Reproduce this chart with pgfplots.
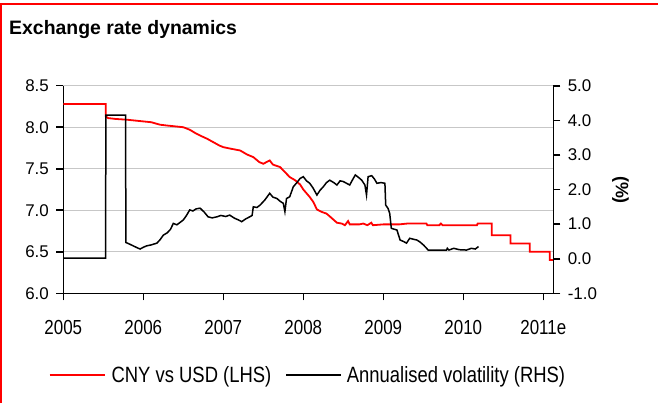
\documentclass[border=0pt]{standalone}
\usepackage{fontspec}
\setmainfont{Liberation Sans}
\usepackage{graphicx}
\usepackage{pgfplots}
\usepackage{pgfplotstable}
\pgfplotsset{compat=1.18}
\newcommand{\vs}[1]{\scalebox{1}[1.2]{#1}}

\pgfplotstableread{
x y
2005.000 8.28
2005.530 8.28
2005.531 8.13
2005.560 8.11
2005.650 8.10
2005.800 8.09
2005.900 8.08
2006.000 8.07
2006.100 8.06
2006.210 8.03
2006.300 8.02
2006.400 8.01
2006.500 8.00
2006.580 7.97
2006.650 7.93
2006.710 7.90
2006.800 7.86
2006.875 7.82
2006.950 7.78
2007.000 7.76
2007.100 7.74
2007.210 7.72
2007.300 7.67
2007.375 7.64
2007.450 7.58
2007.500 7.56
2007.540 7.58
2007.580 7.60
2007.620 7.55
2007.710 7.52
2007.770 7.46
2007.830 7.40
2007.900 7.36
2007.960 7.31
2008.000 7.25
2008.080 7.16
2008.125 7.10
2008.170 7.01
2008.230 6.98
2008.290 6.96
2008.350 6.91
2008.420 6.85
2008.480 6.84
2008.520 6.82
2008.560 6.87
2008.580 6.83
2008.700 6.83
2008.750 6.84
2008.800 6.82
2008.850 6.85
2008.870 6.82
2009.000 6.83
2009.200 6.83
2009.300 6.84
2009.540 6.84
2009.550 6.82
2009.700 6.82
2009.720 6.84
2009.740 6.82
2010.000 6.82
2010.170 6.82
2010.180 6.84
2010.355 6.84
2010.356 6.70
2010.590 6.70
2010.591 6.60
2010.830 6.60
2010.831 6.50
2011.080 6.50
2011.081 6.40
2011.125 6.40
}\cny

\pgfplotstableread{
x y
2005.000 0.02
2005.530 0.02
2005.531 4.15
2005.780 4.15
2005.781 0.47
2005.830 0.42
2005.875 0.37
2005.920 0.32
2005.960 0.28
2006.000 0.33
2006.040 0.37
2006.100 0.40
2006.170 0.45
2006.210 0.55
2006.250 0.68
2006.300 0.75
2006.340 0.85
2006.375 1.02
2006.420 0.98
2006.460 1.05
2006.500 1.12
2006.540 1.25
2006.580 1.41
2006.620 1.38
2006.660 1.44
2006.710 1.46
2006.760 1.35
2006.810 1.21
2006.860 1.18
2006.920 1.21
2006.970 1.25
2007.030 1.22
2007.080 1.26
2007.140 1.17
2007.190 1.12
2007.230 1.07
2007.280 1.15
2007.330 1.21
2007.360 1.25
2007.375 1.50
2007.420 1.48
2007.460 1.55
2007.520 1.70
2007.580 1.89
2007.620 1.78
2007.670 1.74
2007.710 1.66
2007.750 1.60
2007.770 1.36
2007.790 1.74
2007.830 1.79
2007.875 2.08
2007.920 2.20
2007.960 2.32
2008.000 2.37
2008.040 2.25
2008.080 2.18
2008.120 2.05
2008.170 1.84
2008.210 1.98
2008.250 2.08
2008.290 2.20
2008.330 2.27
2008.380 2.20
2008.420 2.13
2008.460 2.25
2008.500 2.23
2008.540 2.18
2008.580 2.13
2008.620 2.30
2008.650 2.42
2008.690 2.35
2008.730 2.27
2008.770 2.13
2008.790 1.84
2008.810 2.37
2008.855 2.40
2008.890 2.30
2008.920 2.18
2008.970 2.20
2009.020 2.18
2009.030 1.55
2009.060 1.45
2009.080 1.31
2009.100 0.88
2009.140 0.85
2009.170 0.83
2009.210 0.54
2009.250 0.50
2009.290 0.45
2009.330 0.59
2009.380 0.56
2009.420 0.54
2009.460 0.48
2009.500 0.40
2009.530 0.33
2009.560 0.25
2009.700 0.25
2009.790 0.25
2009.800 0.30
2009.820 0.25
2009.880 0.30
2009.950 0.26
2010.040 0.25
2010.100 0.30
2010.150 0.28
2010.190 0.35
}\vol

\begin{document}
\begin{tikzpicture}[x=1bp,y=1bp]
\useasboundingbox (0,0) rectangle (658,403);
\draw[red, line width=2.5bp] (0,399) -- (658,399);
\draw[red, line width=2.5bp] (1.2,0) -- (1.2,400);
\node[anchor=base west, inner sep=0pt, font=\bfseries\fontsize{19.5}{22}\selectfont] at (9,369) {Exchange rate dynamics};

\begin{axis}[
  at={(63.3bp,109.7bp)}, anchor=south west,
  scale only axis, width=490bp, height=207.6bp,
  xmin=2005, xmax=2011.125, ymin=6, ymax=8.5,
  axis x line*=bottom, axis y line*=left,
  axis line style={line width=1.6bp, -},
  xtick={2005,2006,2007,2008,2009,2010,2011},
  xticklabels={\vs{2005},\vs{2006},\vs{2007},\vs{2008},\vs{2009},\vs{2010},\vs{2011e}},
  ytick={6,6.5,7,7.5,8,8.5},
  yticklabels={6.0,6.5,7.0,7.5,8.0,8.5},
  tick align=outside, major tick length=7bp,
  tick style={line width=1.6bp, black},
  ymajorgrids, grid style={line width=1.3bp, color=black!22},
  ticklabel style={font=\fontsize{17}{20}\selectfont},
  xticklabel style={anchor=north, yshift=-16bp},
  yticklabel style={anchor=east, xshift=-4bp},
  legend columns=2,
  legend style={at={(axis description cs:-0.03,-0.393)}, anchor=west, draw=none, fill=none, inner sep=0pt,
    font=\fontsize{18.5}{21}\selectfont,
    /tikz/every even column/.append style={column sep=12bp}},
  legend image code/.code={\draw[#1] (0bp,0bp) -- (55bp,0bp);},
]
\addplot[red, line width=1.8bp] table[x=x,y=y] {\cny};
\addlegendentry{\hspace{4bp}\vs{CNY vs USD (LHS)}}
\addlegendimage{black, line width=1.6bp}
\addlegendentry{\hspace{3bp}\vs{Annualised volatility  (RHS)}}
\end{axis}

\begin{axis}[
  at={(63.3bp,109.7bp)}, anchor=south west,
  scale only axis, width=490bp, height=207.6bp,
  xmin=2005, xmax=2011.125, ymin=-1, ymax=5,
  axis x line=none, axis y line*=right,
  axis line style={line width=1.6bp, -},
  ytick={-1,0,1,2,3,4,5},
  yticklabels={-1.0,0.0,1.0,2.0,3.0,4.0,5.0},
  tick align=outside, major tick length=7bp,
  tick style={line width=1.6bp, black},
  ticklabel style={font=\fontsize{17}{20}\selectfont},
  yticklabel style={anchor=west, xshift=4bp},
  ylabel={(\%)},
  ylabel style={at={(axis description cs:1.137,0.4976)}, anchor=center, rotate=180, font=\bfseries\fontsize{18}{21}\selectfont},
]
\addplot[black, line width=1.5bp] table[x=x,y=y] {\vol};
\end{axis}
\end{tikzpicture}
\end{document}
